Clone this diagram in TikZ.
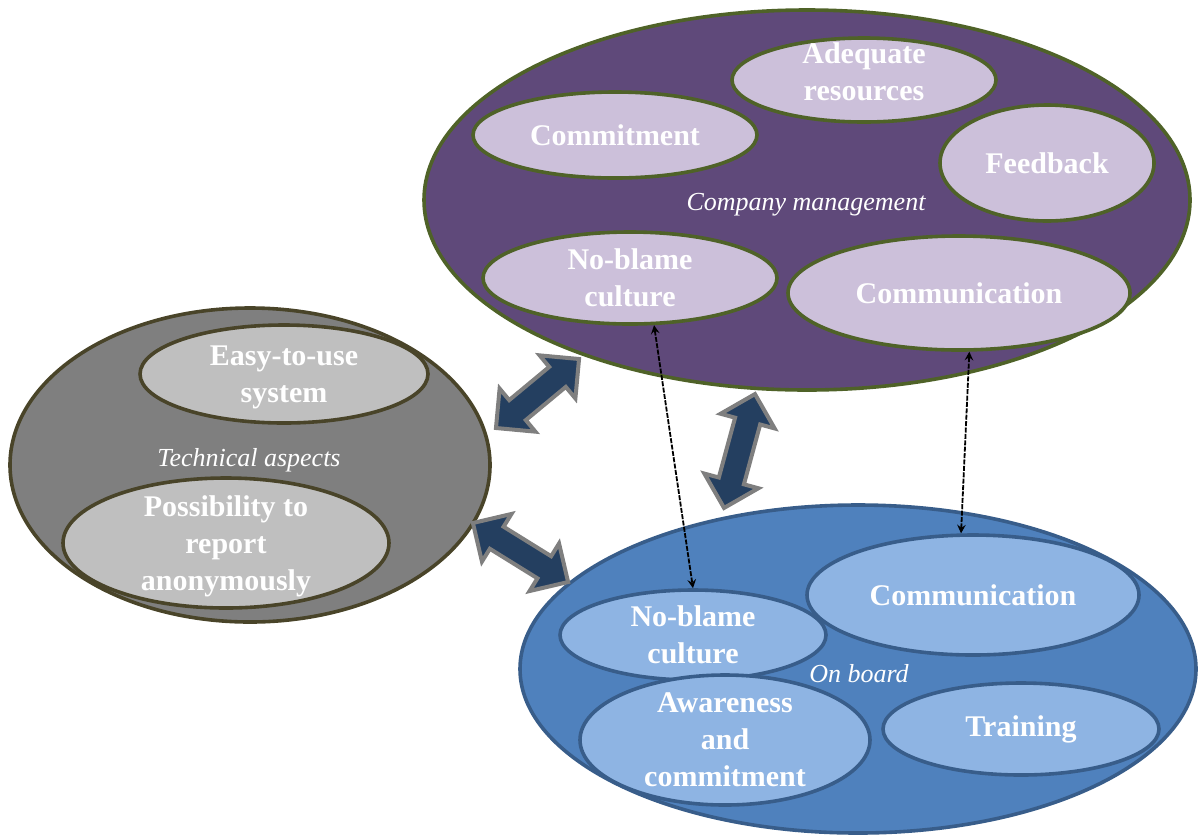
\documentclass[tikz,border=0pt]{standalone}
\usepackage{fontspec}
\setmainfont{Liberation Serif}
\usetikzlibrary{shapes.geometric,shapes.arrows}
\definecolor{mgmt}{HTML}{5F497A}
\definecolor{mgmtline}{HTML}{4F6228}
\definecolor{mgmtitem}{HTML}{CCC0DA}
\definecolor{tech}{HTML}{7F7F7F}
\definecolor{techline}{HTML}{494429}
\definecolor{techitem}{HTML}{BFBFBF}
\definecolor{board}{HTML}{4F81BD}
\definecolor{boardline}{HTML}{385D8A}
\definecolor{boarditem}{HTML}{8EB4E3}
\definecolor{linkblue}{HTML}{243F60}

\begin{document}
\begin{tikzpicture}[x=0.5pt, y=-0.5pt,
  group/.style = {draw, ellipse, line width=1.8pt, inner sep=0pt},
  item/.style = {draw, ellipse, line width=1.8pt, inner sep=-10pt, align=center, text=white, font=\fontsize{15}{18.5}\selectfont\bfseries},
  tag/.style = {text=white, inner sep=0pt, font=\fontsize{13}{15}\selectfont\itshape},
  link/.style = {double arrow, draw=tech, fill=linkblue, line width=2pt, inner xsep=0pt, inner ysep=5.5pt, double arrow head extend=7.5pt},
  >=stealth]
  \useasboundingbox (0,0) rectangle (1198,836);
  % company management
  \node[group, fill=mgmt, draw=mgmtline, minimum width=383pt, minimum height=190pt] at (807,200) (1) {};
  \node[item, fill=mgmtitem, draw=mgmtline, minimum width=132pt, minimum height=42pt, text depth=8pt] at (864,80) (11) {Adequate\\resources};
  \node[item, fill=mgmtitem, draw=mgmtline, minimum width=142pt, minimum height=43pt] at (615,135) (12) {Commitment};
  \node[item, fill=mgmtitem, draw=mgmtline, minimum width=107pt, minimum height=58pt] at (1047,163) (13) {Feedback};
  \node[item, fill=mgmtitem, draw=mgmtline, minimum width=147pt, minimum height=46pt] at (630,278) (14) {No-blame\\culture};
  \node[item, fill=mgmtitem, draw=mgmtline, minimum width=171pt, minimum height=57pt] at (959,293) (15) {Communication};
  \node[tag] at (806,205) (t1) {Company management};
  % technical aspects
  \node[group, fill=tech, draw=techline, minimum width=240pt, minimum height=157pt] at (250,465) (2) {};
  \node[item, fill=techitem, draw=techline, minimum width=144pt, minimum height=49pt, text depth=0pt] at (284,374) (21) {Easy-to-use\\system};
  \node[item, fill=techitem, draw=techline, minimum width=163pt, minimum height=65pt, text depth=0pt] at (226,543) (22) {Possibility to\\report\\anonymously};
  \node[tag] at (249,460) (t2) {Technical aspects};
  % on board
  \node[group, fill=board, draw=boardline, minimum width=338pt, minimum height=164pt] at (858,669) (3) {};
  \node[item, fill=boarditem, draw=boardline, minimum width=166pt, minimum height=60pt] at (973,595) (31) {Communication};
  \node[item, fill=boarditem, draw=boardline, minimum width=133pt, minimum height=45pt] at (693,635) (32) {No-blame\\culture};
  \node[item, fill=boarditem, draw=boardline, minimum width=145pt, minimum height=65pt] at (725,740) (33) {Awareness\\and\\commitment};
  \node[item, fill=boarditem, draw=boardline, minimum width=138pt, minimum height=46pt] at (1021,729) (34) {Training};
  \node[tag] at (859,674) (t3) {On board};
  % links between the groups
  \node[link, rotate=39.7, minimum height=54pt] at (537.5,393.5) (a1) {};
  \node[link, rotate=-31.8, minimum height=56pt] at (520.5,552.5) (a2) {};
  \node[link, rotate=74.8, minimum height=59pt] at (739.5,451) (a3) {};
  \draw[<->, dash pattern=on 2.5pt off 0.7pt, line width=0.9pt] (14.-63) -- (32.north);
  \draw[<->, dash pattern=on 2.5pt off 0.7pt, line width=0.9pt] (15.-80) -- (31.101);
\end{tikzpicture}
\end{document}
